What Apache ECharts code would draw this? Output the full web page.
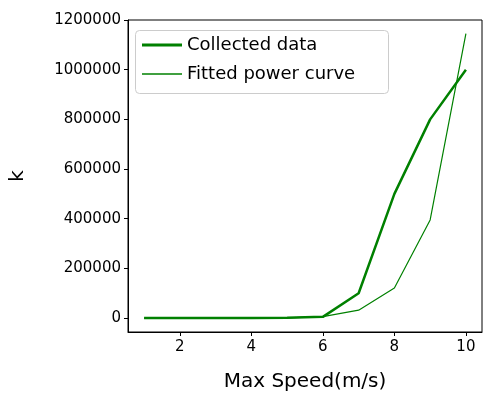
<!DOCTYPE html>
<html>
<head>
<meta charset="utf-8">
<script src="https://cdn.jsdelivr.net/npm/echarts@6/dist/echarts.min.js"></script>
<style>html,body{margin:0;padding:0;background:#fff}#chart{width:500px;height:400px}</style>
</head>
<body>
<div id="chart"></div>
<script>
// values
var speeds = [1, 2, 3, 4, 5, 6, 7, 8, 9, 10];
var collected = [0, 0, 0, 0, 1000, 5000, 100000, 500000, 800000, 1000000];
var fitted = [0, 0, 100, 300, 1000, 6000, 32000, 121000, 395000, 1145000];

function pairs(ys) {
    return speeds.map(function (x, i) { return [x, ys[i]]; });
}

var myChart = echarts.init(document.getElementById('chart'));
var font = 'DejaVu Sans';
var legendText = { fontFamily: font, fontSize: 18, color: '#000' };

var option = {
    animation: false,
    grid: { left: 125, top: 20, right: 18, bottom: 68, show: true, borderColor: '#000', borderWidth: 1 },
    graphic: [{
        type: 'rect', left: 135, top: 30,
        shape: { width: 253, height: 63, r: 4 },
        style: { fill: 'rgba(255,255,255,0.8)', stroke: '#ccc', lineWidth: 1 },
        z: 10
    }],
    legend: [{
        left: 142, top: 36, padding: 0, itemWidth: 40, itemHeight: 3, icon: 'rect',
        itemGap: 10, textStyle: legendText, z: 20,
        data: ['Collected data']
    }, {
        left: 142, top: 65, padding: 0, itemWidth: 40, itemHeight: 1.3, icon: 'rect',
        itemGap: 10, textStyle: legendText, z: 20,
        data: ['Fitted power curve']
    }],
    xAxis: {
        type: 'value', min: 0.55, max: 10.45, splitNumber: 5,
        name: 'Max Speed(m/s)', nameLocation: 'middle', nameGap: 40,
        nameTextStyle: { fontFamily: font, fontSize: 20, color: '#000' },
        axisLine: { show: true, onZero: false, lineStyle: { color: '#000' } },
        axisTick: { show: true, length: 4, lineStyle: { color: '#000' } },
        axisLabel: {
            fontFamily: font, fontSize: 15, color: '#000', margin: 8,
            showMinLabel: false, showMaxLabel: false,
            formatter: function (v) { return Math.abs(v % 2) < 1e-9 ? String(v) : ''; }
        },
        splitLine: { show: false }
    },
    yAxis: {
        type: 'value', min: -56000, max: 1200000, splitNumber: 6,
        name: 'k', nameLocation: 'middle', nameGap: 100, nameRotate: 90,
        nameTextStyle: { fontFamily: font, fontSize: 20, color: '#000' },
        axisLine: { show: true, onZero: false, lineStyle: { color: '#000' } },
        axisTick: { show: true, length: 4, lineStyle: { color: '#000' } },
        axisLabel: {
            fontFamily: font, fontSize: 15, color: '#000', margin: 7,
            showMinLabel: false,
            formatter: function (v) { return Math.abs(v % 200000) < 1e-6 ? String(v) : ''; }
        },
        splitLine: { show: false }
    },
    series: [{
        name: 'Collected data', type: 'line', symbol: 'none',
        data: pairs(collected),
        lineStyle: { color: '#008000', width: 2.5 },
        itemStyle: { color: '#008000' }
    }, {
        name: 'Fitted power curve', type: 'line', symbol: 'none',
        data: pairs(fitted),
        lineStyle: { color: '#008000', width: 1.2 },
        itemStyle: { color: '#008000' }
    }]
};

myChart.setOption(option);
</script>
</body>
</html>
